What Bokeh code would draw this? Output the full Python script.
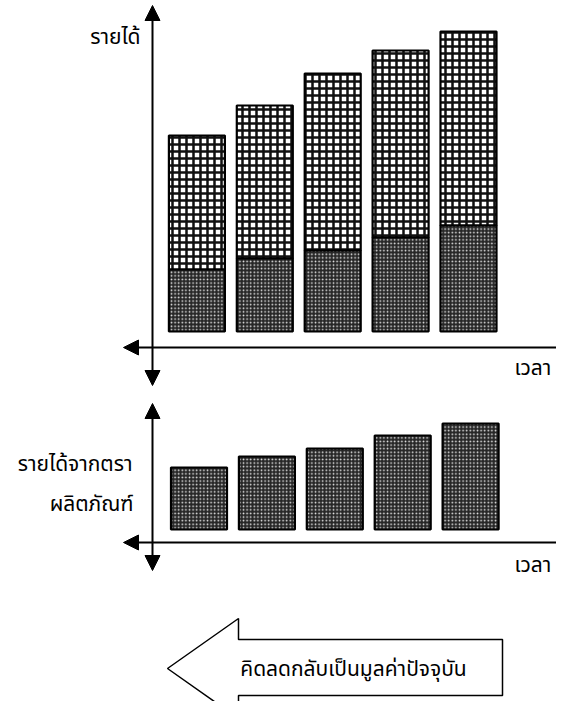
from bokeh.plotting import figure
from bokeh.models import Range1d, Arrow, NormalHead, Label, ColumnDataSource
from bokeh.embed import file_html
from bokeh.resources import INLINE

# ---- data ----
periods = [1, 2, 3, 4, 5]
total_income = [19.6, 22.6, 25.8, 28.1, 30.0]
brand_income = [6.2, 7.3, 8.1, 9.4, 10.6]

y_label_top = "รายได้"
x_label = "เวลา"
y_label_bottom = ["รายได้จากตรา", "ผลิตภัณฑ์"]
arrow_text = "คิดลดกลับเป็นมูลค่าปัจจุบัน"

FONT = "Noto Sans Thai, Tahoma, Loma, Garuda, sans-serif"

W, H = 556, 701
p = figure(width=W, height=H, output_backend="svg", toolbar_location=None,
           x_range=Range1d(-1.8925, 6.296), y_range=Range1d(-37.0, 33.1),
           x_axis_location=None, y_axis_location=None,
           min_border=0, min_border_left=0, min_border_right=0,
           min_border_top=0, min_border_bottom=0,
           outline_line_color=None, background_fill_color="white",
           border_fill_color="white")
p.grid.visible = False
p.extra_x_ranges = {"bx": Range1d(-1.9234, 6.2651), "px": Range1d(0, W)}
p.extra_y_ranges = {"by": Range1d(-17.2, 52.9), "py": Range1d(H, 0)}

src = ColumnDataSource(dict(x=periods, total=total_income, brand=brand_income,
                            zero=[0] * len(periods)))
BW = 0.825
grid_style = dict(fill_color="white", hatch_pattern="+", hatch_scale=7,
                  hatch_weight=2.5, hatch_color="#111111",
                  line_color="black", line_width=2.2)
dot_style = dict(fill_color="#262626", hatch_pattern=".", hatch_scale=3.6,
                 hatch_weight=1.0, hatch_color="#e8e8e8",
                 line_color="black", line_width=2.2)

# top chart
p.vbar(x="x", width=BW, bottom="brand", top="total", source=src, **grid_style)
p.vbar(x="x", width=BW, bottom="zero", top="brand", source=src, **dot_style)
# bottom chart
p.vbar(x="x", width=BW, bottom="zero", top="brand", source=src,
       x_range_name="bx", y_range_name="by", **dot_style)

def axis_arrow(x0, y0, x1, y1):
    p.add_layout(Arrow(start=NormalHead(size=15, fill_color="black", line_color="black"),
                       end=NormalHead(size=15, fill_color="black", line_color="black"),
                       x_start=x0, y_start=y0, x_end=x1, y_end=y1,
                       x_range_name="px", y_range_name="py",
                       line_width=2, line_color="black"))

axis_arrow(152, 385, 152, 5)
axis_arrow(123, 347, 587, 347)
axis_arrow(152, 570, 152, 403)
axis_arrow(123, 542, 587, 542)

def label(x, y, t, align="left", size="21px", baseline="alphabetic"):
    p.add_layout(Label(x=x, y=y, text=t, x_range_name="px", y_range_name="py",
                       text_align=align, text_baseline=baseline,
                       text_font=FONT, text_font_size=size, text_color="black"))

label(140, 37, y_label_top, "right")
label(514, 368, x_label)
label(132, 464, y_label_bottom[0], "right")
label(133, 504, y_label_bottom[1], "right")
label(514, 565, x_label)

# big left arrow
ax = [167, 238, 238, 502, 502, 238, 238]
ay = [668, 618, 639, 639, 695, 695, 718]
p.patch(ax, ay, x_range_name="px", y_range_name="py", fill_color="white",
        line_color="black", line_width=1.5)
label(353, 669, arrow_text, "center", "21px")

open("out.html", "w").write(file_html(p, INLINE))
